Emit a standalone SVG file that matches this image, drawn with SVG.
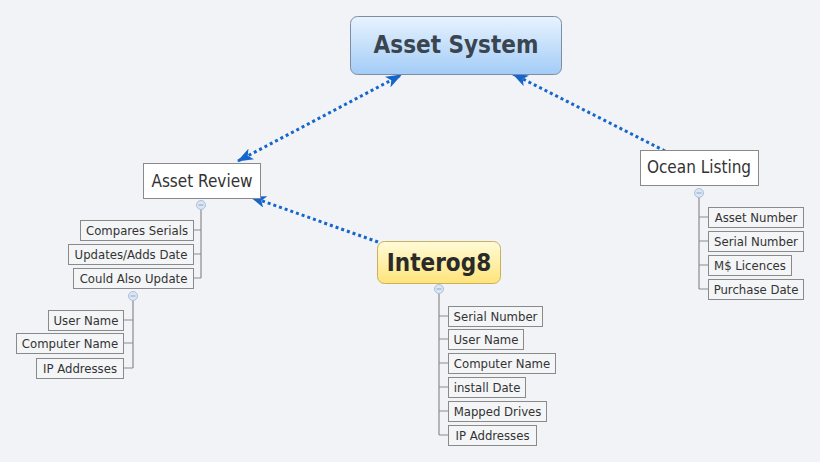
<svg xmlns="http://www.w3.org/2000/svg" width="820" height="462" viewBox="0 0 820 462">
<defs>
<linearGradient id="gBlue" x1="0" y1="0" x2="0" y2="1"><stop offset="0" stop-color="#e8f3fe"/><stop offset="1" stop-color="#a3ccf7"/></linearGradient>
<linearGradient id="gYel" x1="0" y1="0" x2="0" y2="1"><stop offset="0" stop-color="#fffbd8"/><stop offset="1" stop-color="#ffe47a"/></linearGradient>
<marker id="ah" markerUnits="userSpaceOnUse" viewBox="0 0 16 12" markerWidth="16" markerHeight="12" refX="15" refY="6" orient="auto-start-reverse"><path d="M0,0 L16,6 L0,12 L4,6 z" fill="#1565cc"/></marker>
</defs>
<style>
text{font-family:"DejaVu Sans Condensed","DejaVu Sans",sans-serif;fill:#333;text-anchor:middle}
.main{font-size:17px}
.big{font-size:24px;font-weight:bold}
.leaf rect{fill:#f4f5f7;stroke:#8a8a8a;stroke-width:1}
.leaf text{font-size:13px}
.topic rect{fill:#fff;stroke:#8a8a8a;stroke-width:1}
.br{stroke:#8c8c8c;stroke-width:1.2;fill:none}
.tg{fill:#dbe6f2;stroke:#a9c0db;stroke-width:1}
.tgm{stroke:#8aa6c8;stroke-width:1}
.rel{stroke:#1565cc;stroke-width:3;stroke-dasharray:3 3;fill:none}
</style>
<rect width="820" height="462" fill="#f1f3f7"/>

<g id="connectors">
<line class="rel" x1="238" y1="161" x2="401" y2="75" marker-start="url(#ah)" marker-end="url(#ah)"/>
<line class="rel" x1="378" y1="242" x2="251" y2="197" marker-end="url(#ah)"/>
<line class="rel" x1="665" y1="151" x2="513" y2="74" marker-end="url(#ah)"/>
<path class="br" d="M201,209 V278 M193,230 H201 M193,254 H201 M193,278 H201"/>
<path class="br" d="M133,300 V368 M123,320 H133 M123,343 H133 M123,368 H133"/>
<path class="br" d="M439,293 V435 M439,316 H448 M439,339 H448 M439,363 H448 M439,387 H448 M439,411 H448 M439,435 H448"/>
<path class="br" d="M699,197 V289 M699,217 H708 M699,241 H708 M699,265 H708 M699,289 H708"/>
<g id="toggles">
<circle class="tg" cx="201" cy="205" r="4.5"/><line class="tgm" x1="198.5" y1="205" x2="203.5" y2="205"/>
<circle class="tg" cx="133" cy="296" r="4.5"/><line class="tgm" x1="130.5" y1="296" x2="135.5" y2="296"/>
<circle class="tg" cx="439" cy="289" r="4.5"/><line class="tgm" x1="436.5" y1="289" x2="441.5" y2="289"/>
<circle class="tg" cx="699" cy="193" r="4.5"/><line class="tgm" x1="696.5" y1="193" x2="701.5" y2="193"/>
</g>
</g>

<g id="asset-system">
<rect x="350.5" y="16.5" width="211" height="58" rx="7" fill="url(#gBlue)" stroke="#7d8ea3"/>
<text class="big" x="456" y="53" style="fill:#3a4550">Asset System</text>
</g>

<g id="asset-review" class="topic">
<rect x="143.5" y="163.5" width="117" height="35"/>
<text class="main" x="202" y="187">Asset Review</text>
</g>

<g id="ocean-listing" class="topic">
<rect x="640.5" y="150.5" width="118" height="35"/>
<text class="main" x="699" y="173">Ocean Listing</text>
</g>

<g id="interog8">
<rect x="377.5" y="241.5" width="123" height="42" rx="7" fill="url(#gYel)" stroke="#c9b05e"/>
<text class="big" x="439" y="271" style="fill:#2a2a2a">Interog8</text>
</g>

<g id="ar-compares" class="leaf"><rect x="80.5" y="220.5" width="113" height="20"/><text x="137" y="235">Compares Serials</text></g>
<g id="ar-updates" class="leaf"><rect x="68.5" y="244.5" width="125" height="20"/><text x="131" y="259">Updates/Adds Date</text></g>
<g id="ar-could" class="leaf"><rect x="73.5" y="268.5" width="120" height="20"/><text x="133.5" y="283">Could Also Update</text></g>
<g id="ca-user" class="leaf"><rect x="48.5" y="310.5" width="75" height="20"/><text x="86" y="325">User Name</text></g>
<g id="ca-computer" class="leaf"><rect x="16.5" y="333.5" width="107" height="20"/><text x="70" y="348">Computer Name</text></g>
<g id="ca-ip" class="leaf"><rect x="36.5" y="358.5" width="87" height="20"/><text x="80" y="373">IP Addresses</text></g>

<g id="i8-serial" class="leaf"><rect x="448.5" y="306.5" width="94" height="20"/><text x="495.5" y="321">Serial Number</text></g>
<g id="i8-user" class="leaf"><rect x="448.5" y="329.5" width="75" height="20"/><text x="486" y="344">User Name</text></g>
<g id="i8-computer" class="leaf"><rect x="448.5" y="353.5" width="107" height="20"/><text x="502" y="368">Computer Name</text></g>
<g id="i8-install" class="leaf"><rect x="448.5" y="377.5" width="77" height="20"/><text x="487" y="392">install Date</text></g>
<g id="i8-mapped" class="leaf"><rect x="448.5" y="401.5" width="98" height="20"/><text x="497.5" y="416">Mapped Drives</text></g>
<g id="i8-ip" class="leaf"><rect x="448.5" y="425.5" width="88" height="20"/><text x="492.5" y="440">IP Addresses</text></g>

<g id="ol-asset" class="leaf"><rect x="708.5" y="207.5" width="95" height="20"/><text x="756" y="222">Asset Number</text></g>
<g id="ol-serial" class="leaf"><rect x="708.5" y="231.5" width="95" height="20"/><text x="756" y="246">Serial Number</text></g>
<g id="ol-ms" class="leaf"><rect x="708.5" y="255.5" width="83" height="20"/><text x="750" y="270">M$ Licences</text></g>
<g id="ol-purchase" class="leaf"><rect x="708.5" y="279.5" width="95" height="20"/><text x="756" y="294">Purchase Date</text></g>
</svg>
